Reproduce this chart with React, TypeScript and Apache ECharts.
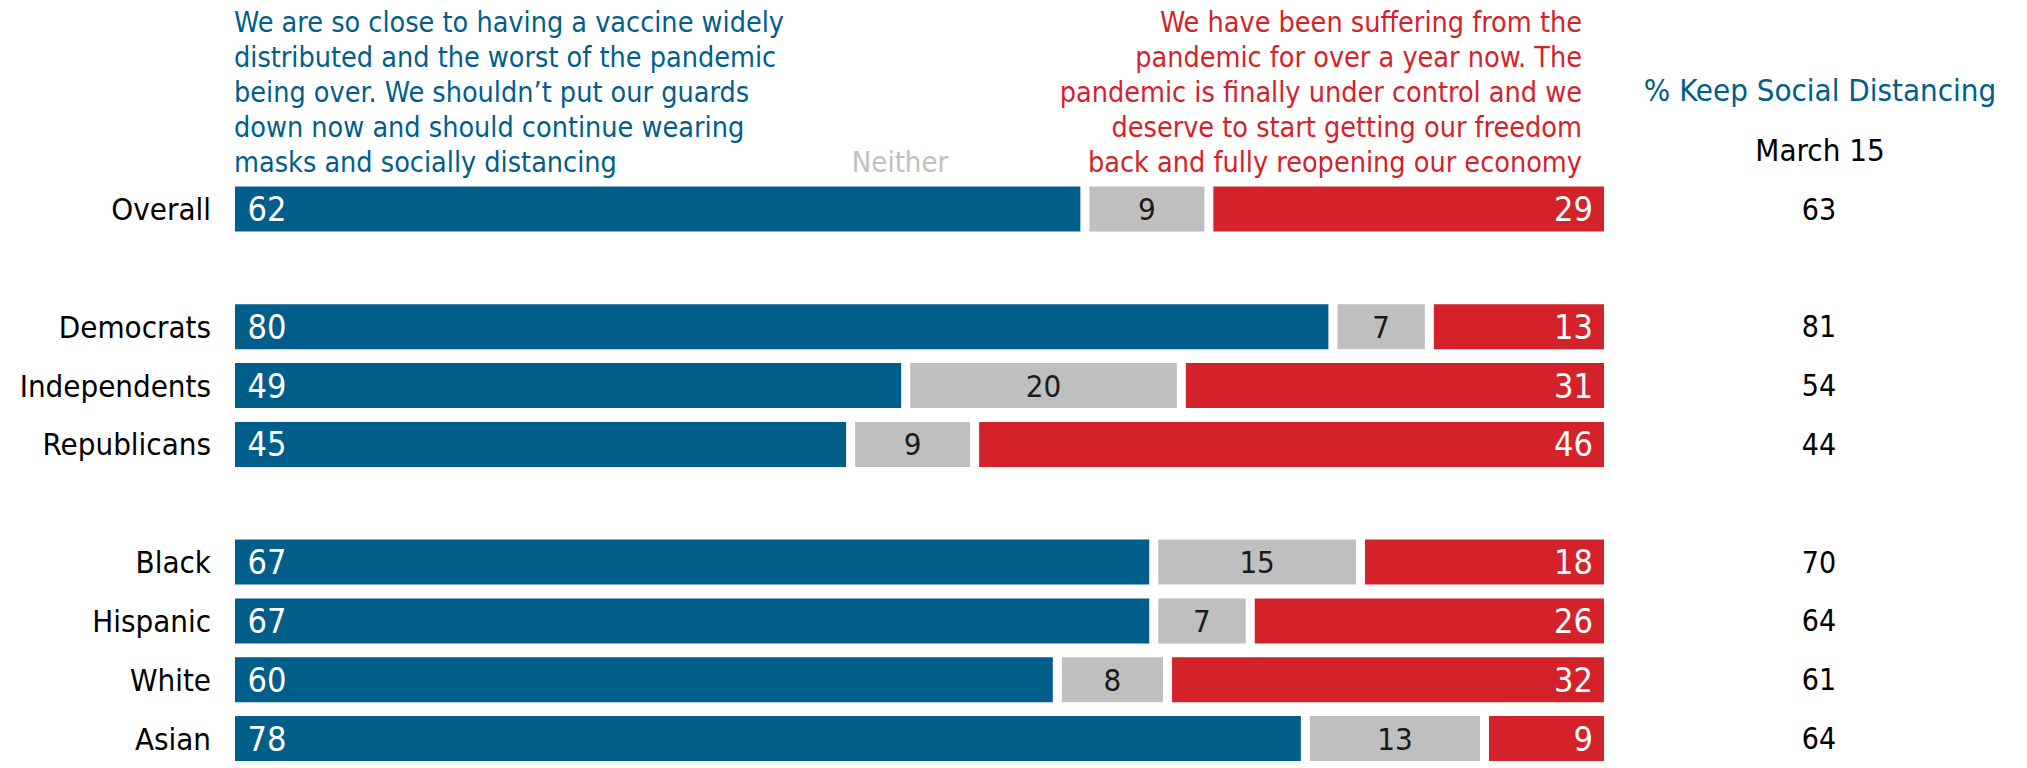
import React, { useEffect, useRef } from "react";
import * as echarts from "echarts";

const categories = ["Overall", "Democrats", "Independents", "Republicans", "Black", "Hispanic", "White", "Asian"];
const keepWearing = [62, 80, 49, 45, 67, 67, 60, 78];
const neither = [9, 7, 20, 9, 15, 7, 8, 13];
const reopen = [29, 13, 31, 46, 18, 26, 32, 9];
const keepDistancingMarch15 = [63, 81, 54, 44, 70, 64, 61, 64];
// a blank spacer row follows these category indices
const spacerAfter = [0, 3];

const leftHeader = [
  "We are so close to having a vaccine widely",
  "distributed and the worst of the pandemic",
  "being over. We shouldn\u2019t put our guards",
  "down now and should continue wearing",
  "masks and socially distancing",
];
const rightHeader = [
  "We have been suffering from the",
  "pandemic for over a year now. The",
  "pandemic is finally under control and we",
  "deserve to start getting our freedom",
  "back and fully reopening our economy",
];
const neitherLabel = "Neither";
const sideTitle = "% Keep Social Distancing";
const sideSubtitle = "March 15";

const BLUE = "#005E8A";
const GRAY = "#BFBFBF";
const RED = "#D3222A";
const FONT = "'DejaVu Sans Condensed', 'DejaVu Sans', sans-serif";

function withSpacers<T>(arr: T[], blank: T): T[] {
  const out: T[] = [];
  arr.forEach((v, i) => {
    out.push(v);
    if (spacerAfter.includes(i)) out.push(blank);
  });
  return out;
}

export default function App() {
  const ref = useRef<HTMLDivElement>(null);
  useEffect(() => {
    if (!ref.current) return;
    const chart = echarts.init(ref.current, null, { renderer: "svg" });
    const rows = withSpacers(categories, "");
    const rowsRight = withSpacers(keepDistancingMarch15.map(String), "");
    const blueData = withSpacers<any>(keepWearing, "-");
    const grayData = withSpacers<any>(neither, "-");
    const redData = withSpacers<any>(reopen, "-");

    const gridLeft = 230.5;
    const gridWidth = 1378;
    const gridTop = 179.7;
    const gridHeight = 596.7;

    const barCommon = {
      type: "bar" as const,
      stack: "total",
      barWidth: 54,
      yAxisIndex: 0,
    };

    chart.setOption({
      animation: false,
      backgroundColor: "#ffffff",
      grid: { left: gridLeft, width: gridWidth, top: gridTop, height: gridHeight, containLabel: false },
      xAxis: { type: "value", min: 0, max: 100, show: false },
      yAxis: [
        {
          type: "category",
          data: rows,
          inverse: true,
          axisLine: { show: false },
          axisTick: { show: false },
          splitLine: { show: false },
          axisLabel: { margin: 19.5, fontFamily: FONT, fontSize: 31, color: "#000000" },
        },
        {
          type: "category",
          data: rowsRight,
          inverse: true,
          position: "right",
          axisLine: { show: false },
          axisTick: { show: false },
          splitLine: { show: false },
          axisLabel: { margin: 210.5, align: "center", fontFamily: FONT, fontSize: 30, color: "#000000" },
        },
      ],
      series: [
        {
          ...barCommon,
          name: "Keep wearing masks",
          data: blueData,
          itemStyle: { color: BLUE, borderColor: "#ffffff", borderWidth: 4.5 },
          label: {
            show: true,
            position: "insideLeft",
            distance: 17,
            color: "#ffffff",
            fontFamily: FONT,
            fontSize: 34,
            fontWeight: 500,
          },
        },
        {
          ...barCommon,
          name: "Neither",
          data: grayData,
          itemStyle: { color: GRAY, borderColor: "#ffffff", borderWidth: 4.5 },
          label: {
            show: true,
            position: "inside",
            color: "#1a1a1a",
            fontFamily: FONT,
            fontSize: 31,
          },
        },
        {
          ...barCommon,
          name: "Reopen",
          data: redData,
          itemStyle: { color: RED, borderColor: "#ffffff", borderWidth: 4.5 },
          label: {
            show: true,
            position: "insideRight",
            distance: 15.5,
            color: "#ffffff",
            fontFamily: FONT,
            fontSize: 34,
            fontWeight: 500,
          },
        },
      ],
      graphic: [
        {
          type: "text",
          x: 234,
          y: 5.6,
          style: {
            text: leftHeader.join("\n"),
            fill: BLUE,
            fontFamily: FONT,
            fontSize: 28.5,
            lineHeight: 34.8,
            align: "left",
            verticalAlign: "top",
          },
        },
        {
          type: "text",
          x: 1582,
          y: 5.6,
          style: {
            text: rightHeader.join("\n"),
            fill: RED,
            fontFamily: FONT,
            fontSize: 28.5,
            lineHeight: 34.8,
            align: "right",
            verticalAlign: "top",
          },
        },
        {
          type: "text",
          x: 900,
          y: 162,
          style: {
            text: neitherLabel,
            fill: "#C0C0C0",
            fontFamily: FONT,
            fontSize: 29,
            align: "center",
            verticalAlign: "middle",
          },
        },
        {
          type: "text",
          x: 1820,
          y: 90,
          style: {
            text: sideTitle,
            fill: BLUE,
            fontFamily: FONT,
            fontSize: 31,
            align: "center",
            verticalAlign: "middle",
          },
        },
        {
          type: "text",
          x: 1820,
          y: 150,
          style: {
            text: sideSubtitle,
            fill: "#000000",
            fontFamily: FONT,
            fontSize: 31,
            align: "center",
            verticalAlign: "middle",
          },
        },
      ],
    });
    return () => chart.dispose();
  }, []);
  return (
    <div
      ref={ref}
      style={{ position: "fixed", left: 0, top: 0, width: 2027, height: 768 }}
    />
  );
}
